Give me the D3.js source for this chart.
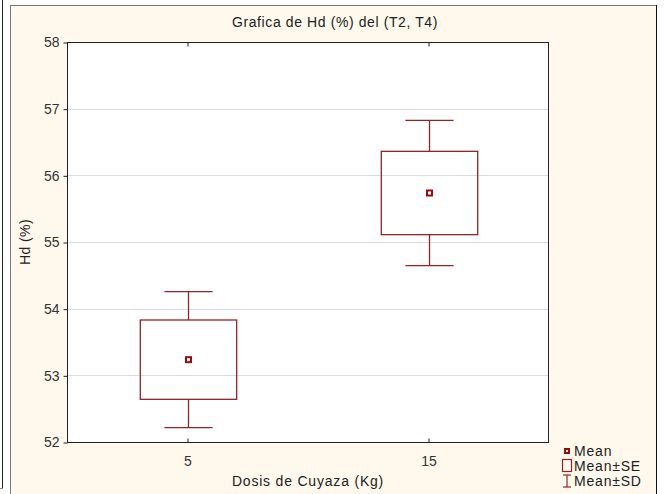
<!DOCTYPE html>
<html><head><meta charset="utf-8">
<script src="https://cdn.jsdelivr.net/npm/d3@7"></script>
<style>html,body{margin:0;padding:0;background:#fff;}svg{display:block;}</style>
</head><body>
<script>
const categories = ["5", "15"];
const means = [53.235, 55.735];
const se = [0.595, 0.625];
const sd = [1.02, 1.09];
const yTicks = [52, 53, 54, 55, 56, 57, 58];
const title = "Grafica de Hd (%) del (T2, T4)";
const xLabel = "Dosis de Cuyaza (Kg)";
const yLabel = "Hd (%)";
const legendItems = ["Mean", "Mean\u00b1SE", "Mean\u00b1SD"];

const W = 666, H = 494;
const red = "#93232B";
const font = "'Liberation Sans', Arial, sans-serif";
const svg = d3.select("body").append("svg").attr("width", W).attr("height", H);

// outer decorations
svg.append("line").attr("x1", 2.5).attr("x2", 2.5).attr("y1", 0).attr("y2", 489).attr("stroke", "#222");
svg.append("line").attr("x1", 0).attr("x2", 3).attr("y1", 488.5).attr("y2", 488.5).attr("stroke", "#888");
svg.append("rect").attr("x", 10.5).attr("y", 5.5).attr("width", 646).attr("height", 500)
  .attr("fill", "#FFF9ED").attr("stroke", "#777");
svg.append("line").attr("x1", 656.5).attr("x2", 656.5).attr("y1", 5).attr("y2", H).attr("stroke", "#111");

const L = 67, R = 549, T = 42, B = 442;
const x = d3.scaleBand().domain(categories).range([L, R]).padding(0);
const y = d3.scaleLinear().domain([52, 58]).range([B, T]);

svg.append("rect").attr("x", L).attr("y", T).attr("width", R - L).attr("height", B - T).attr("fill", "#fff");

// gridlines
svg.append("g").selectAll("line").data(yTicks.slice(1, -1)).join("line")
  .attr("x1", L).attr("x2", R).attr("y1", d => Math.round(y(d)) + 0.5).attr("y2", d => Math.round(y(d)) + 0.5)
  .attr("stroke", "#DCDCDC");

// axes
const yAxis = d3.axisLeft(y).tickValues(yTicks).tickSize(4).tickPadding(4).tickFormat(d3.format("d"));
const gy = svg.append("g").attr("transform", `translate(${L + 0.5},0.5)`).call(yAxis);
gy.select(".domain").remove();
gy.selectAll("line").attr("stroke", "#222");
gy.selectAll("text").attr("font-family", font).attr("font-size", 14).attr("fill", "#333");

const xAxis = d3.axisBottom(x).tickSize(-4).tickPadding(14);
const gx = svg.append("g").attr("transform", `translate(0.5,${B + 0.5})`).call(xAxis);
gx.select(".domain").remove();
gx.selectAll("line").attr("stroke", "#222");
gx.selectAll("text").attr("font-family", font).attr("font-size", 14).attr("fill", "#333");

const xTop = d3.axisTop(x).tickSize(-4).tickFormat("");
const gt = svg.append("g").attr("transform", `translate(0.5,${T + 0.5})`).call(xTop);
gt.select(".domain").remove();
gt.selectAll("line").attr("stroke", "#222");

// frame
svg.append("rect").attr("x", L + 0.5).attr("y", T + 0.5).attr("width", R - L - 1).attr("height", B - T)
  .attr("fill", "none").attr("stroke", "#222");

// boxes
const bw = x.bandwidth() * 0.4, cw = x.bandwidth() * 0.2;
const g = svg.append("g").selectAll("g").data(categories).join("g");
g.each(function (c, i) {
  const s = d3.select(this);
  const cx = Math.round(x(c) + x.bandwidth() / 2) + 0.5;
  s.append("line").attr("x1", cx).attr("x2", cx).attr("y1", y(means[i] + sd[i])).attr("y2", y(means[i] + se[i])).attr("stroke", red).attr("stroke-width", 1.3);
  s.append("line").attr("x1", cx).attr("x2", cx).attr("y1", y(means[i] - se[i])).attr("y2", y(means[i] - sd[i])).attr("stroke", red).attr("stroke-width", 1.3);
  s.append("line").attr("x1", cx - cw / 2).attr("x2", cx + cw / 2).attr("y1", y(means[i] + sd[i])).attr("y2", y(means[i] + sd[i])).attr("stroke", red).attr("stroke-width", 1.3);
  s.append("line").attr("x1", cx - cw / 2).attr("x2", cx + cw / 2).attr("y1", y(means[i] - sd[i])).attr("y2", y(means[i] - sd[i])).attr("stroke", red).attr("stroke-width", 1.3);
  s.append("rect").attr("x", cx - bw / 2).attr("y", y(means[i] + se[i])).attr("width", bw)
    .attr("height", y(means[i] - se[i]) - y(means[i] + se[i])).attr("fill", "none").attr("stroke", red).attr("stroke-width", 1.3);
  s.append("rect").attr("x", cx - 2.5).attr("y", y(means[i]) - 2.5).attr("width", 5).attr("height", 5)
    .attr("fill", "#fff").attr("stroke", "#9A0A0A").attr("stroke-width", 2);
});

// texts
svg.append("text").attr("x", 335).attr("y", 27).attr("text-anchor", "middle").attr("letter-spacing", 0.6)
  .attr("font-family", font).attr("font-size", 14).attr("fill", "#222").text(title);
svg.append("text").attr("x", (L + R) / 2).attr("y", 486).attr("text-anchor", "middle").attr("letter-spacing", 0.8)
  .attr("font-family", font).attr("font-size", 14).attr("fill", "#222").text(xLabel);
svg.append("text").attr("transform", `translate(30,${(T + B) / 2}) rotate(-90)`).attr("text-anchor", "middle").attr("letter-spacing", 0.4)
  .attr("font-family", font).attr("font-size", 14).attr("fill", "#222").text(yLabel);

// legend
const lx = 567, ly = [451, 466, 481];
const lg = svg.append("g");
lg.append("rect").attr("x", lx - 2).attr("y", ly[0] - 2).attr("width", 4).attr("height", 4)
  .attr("fill", "#fff").attr("stroke", "#9A0A0A").attr("stroke-width", 2);
lg.append("rect").attr("x", lx - 4.5).attr("y", ly[1] - 6.5).attr("width", 9).attr("height", 12)
  .attr("fill", "none").attr("stroke", red).attr("stroke-width", 1.2);
lg.append("line").attr("x1", lx).attr("x2", lx).attr("y1", ly[2] - 6).attr("y2", ly[2] + 6).attr("stroke", red).attr("stroke-width", 1.2);
lg.append("line").attr("x1", lx - 4).attr("x2", lx + 4).attr("y1", ly[2] - 6).attr("y2", ly[2] - 6).attr("stroke", red).attr("stroke-width", 1.2);
lg.append("line").attr("x1", lx - 4).attr("x2", lx + 4).attr("y1", ly[2] + 6).attr("y2", ly[2] + 6).attr("stroke", red).attr("stroke-width", 1.2);
lg.selectAll("text").data(legendItems).join("text")
  .attr("x", lx + 7).attr("y", (d, i) => ly[i] + 5).attr("letter-spacing", 0.8)
  .attr("font-family", font).attr("font-size", 14).attr("fill", "#222").text(d => d);
</script>
</body></html>
